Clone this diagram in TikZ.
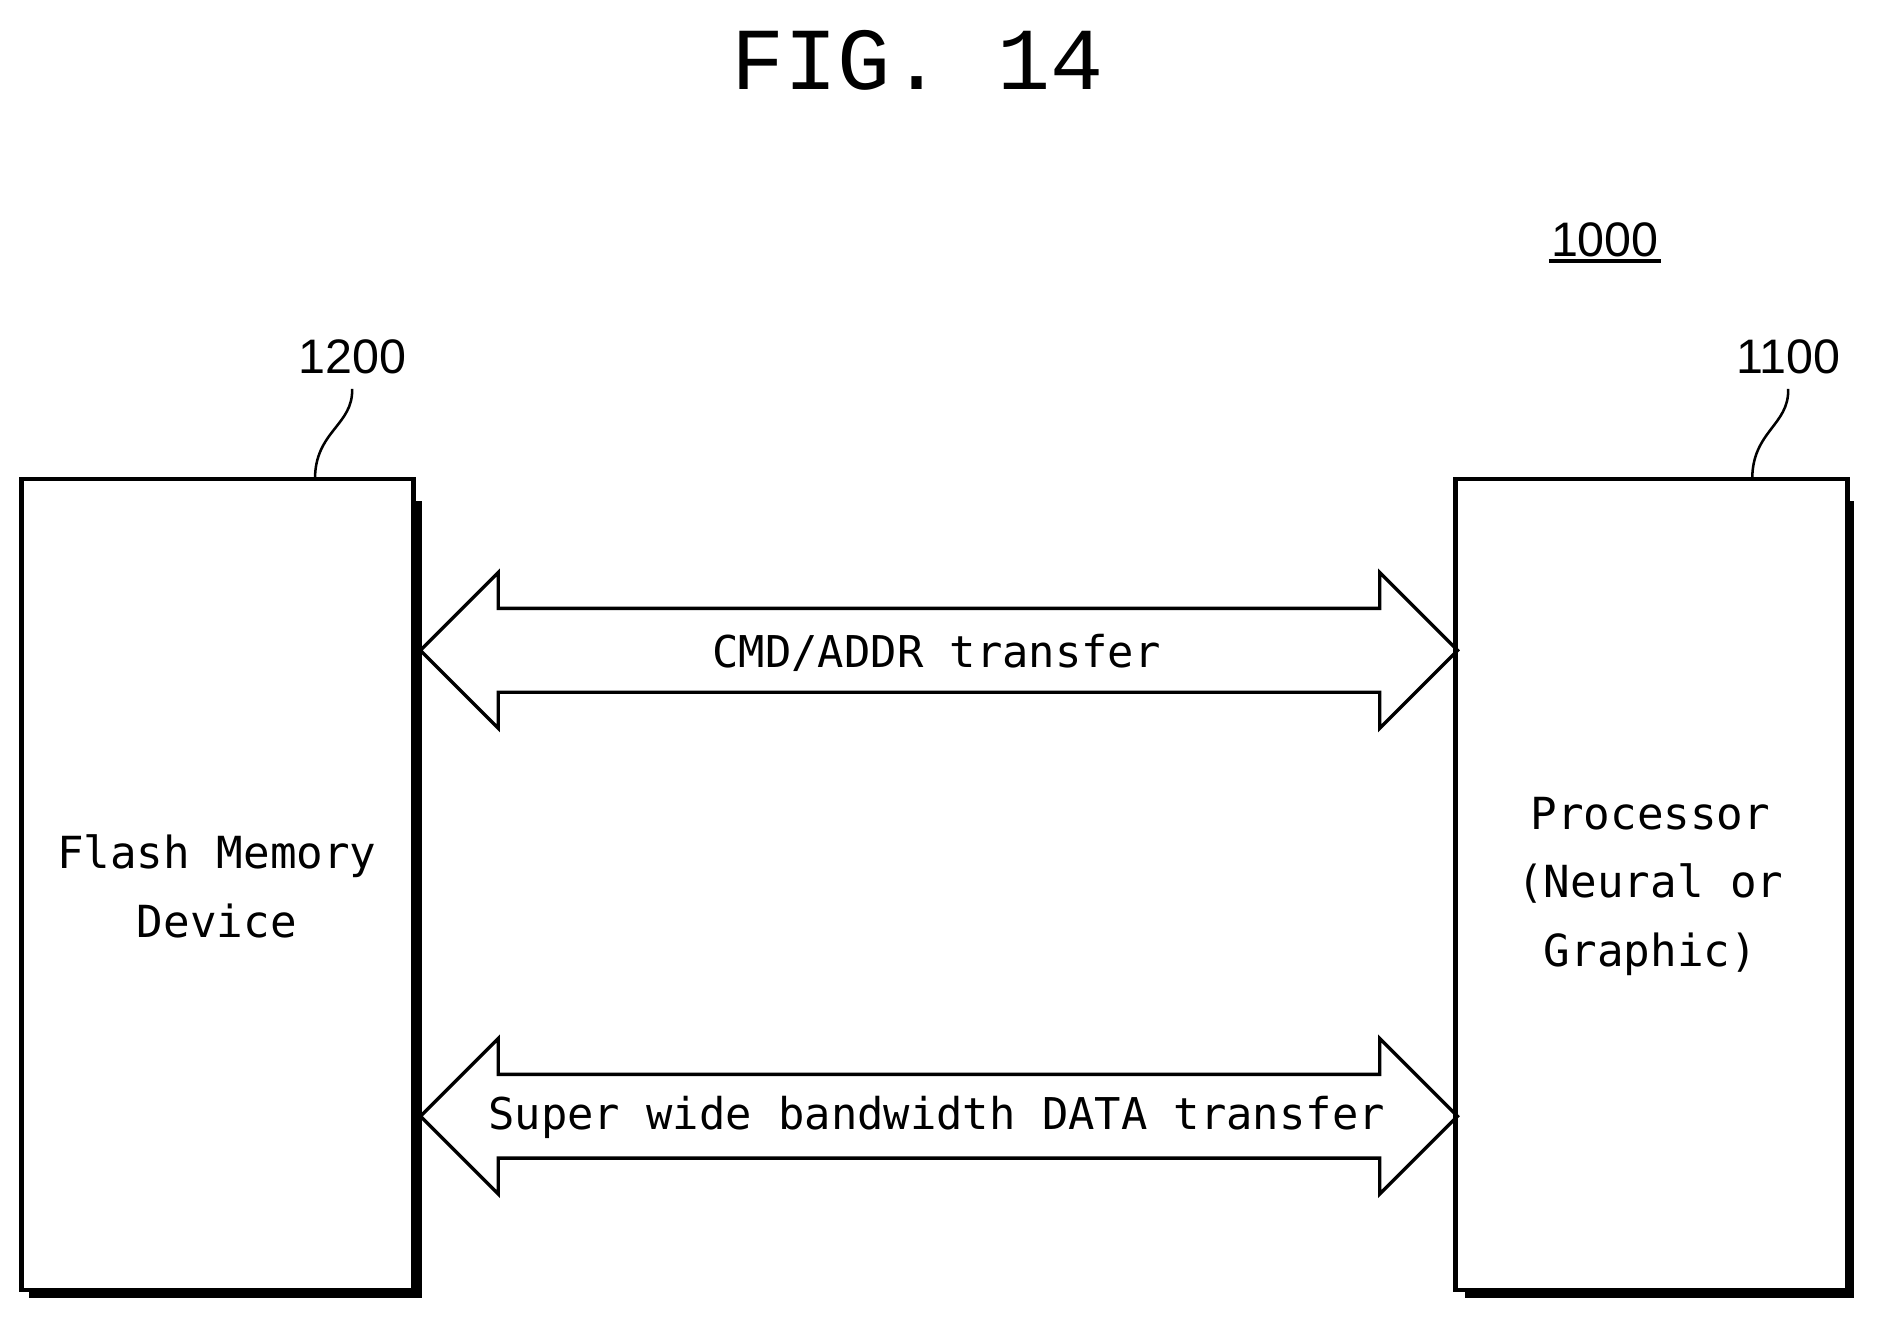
\documentclass[tikz,border=0pt]{standalone}
\usepackage{fontspec}
\setmainfont{Liberation Sans}
\newfontfamily\monof{DejaVu Sans Mono}
\newfontfamily\titlef{Liberation Mono}
\begin{document}
\begin{tikzpicture}[x=0.01cm,y=-0.01cm,
  box/.style={draw,line width=1.1pt,minimum width=3.27cm,minimum height=6.77cm,inner sep=0pt,fill=white},
  lbl/.style={align=center},
  ref/.style={font=\fontsize{11.5}{13}\selectfont},
  arr/.style={draw,line width=0.8pt,line join=miter}]
\useasboundingbox (0,0) rectangle (1568,1101);
\node[font=\titlef\fontsize{21}{24}\selectfont] (title) at (766,50) {FIG. 14};
% shadows
\fill (345,418) rectangle (352,1084);
\fill (24,1077) rectangle (352,1084);
\fill (1541,418) rectangle (1548,1084);
\fill (1223,1077) rectangle (1548,1084);
\node[box] (flash) at (181.5,738.5) {};
\node[box] (proc) at (1379,738.5) {};
\node[lbl,font=\monof\fontsize{10.5}{16.2}\selectfont] (ft) at (181,740) {Flash Memory\\Device};
\node[lbl,font=\monof\fontsize{10.5}{16.2}\selectfont] (pt) at (1378,740) {Processor\\(Neural or\\Graphic)};
% arrows
\coordinate (a1l) at (351,543); \coordinate (a1r) at (1217,543);
\coordinate (a2l) at (351,932); \coordinate (a2r) at (1217,932);
\foreach \l/\r in {a1l/a1r,a2l/a2r}{
  \draw[arr] (\l) -- ++(65,-65) -- ++(0,30) -- ([shift={(-65,-35)}]\r) -- ++(0,-30) -- (\r)
    -- ++(-65,65) -- ++(0,-30) -- ([shift={(65,35)}]\l) -- ++(0,30) -- cycle;
}
\node[lbl,font=\monof\fontsize{10.4}{14}\selectfont] (t1) at (782,545) {CMD/ADDR transfer};
\node[lbl,font=\monof\fontsize{10.4}{14}\selectfont] (t2) at (782,933) {Super wide bandwidth DATA transfer};
% references
\node[ref] (r1200) at (294,298) {1200};
\node[ref] (r1100) at (1493,298) {1100};
\node[ref] (r1000) at (1340,200) {1000};
\draw[line width=0.9pt] ([xshift=3pt,yshift=2.5pt]r1000.south west) -- ([xshift=-3pt,yshift=2.5pt]r1000.south east);
\draw[line width=0.6pt] (r1200.south) .. controls (295,355) and (263,360) .. (263,400);
\draw[line width=0.6pt] (r1100.south) .. controls (1494,355) and (1463,360) .. (1463,400);
\end{tikzpicture}
\end{document}
